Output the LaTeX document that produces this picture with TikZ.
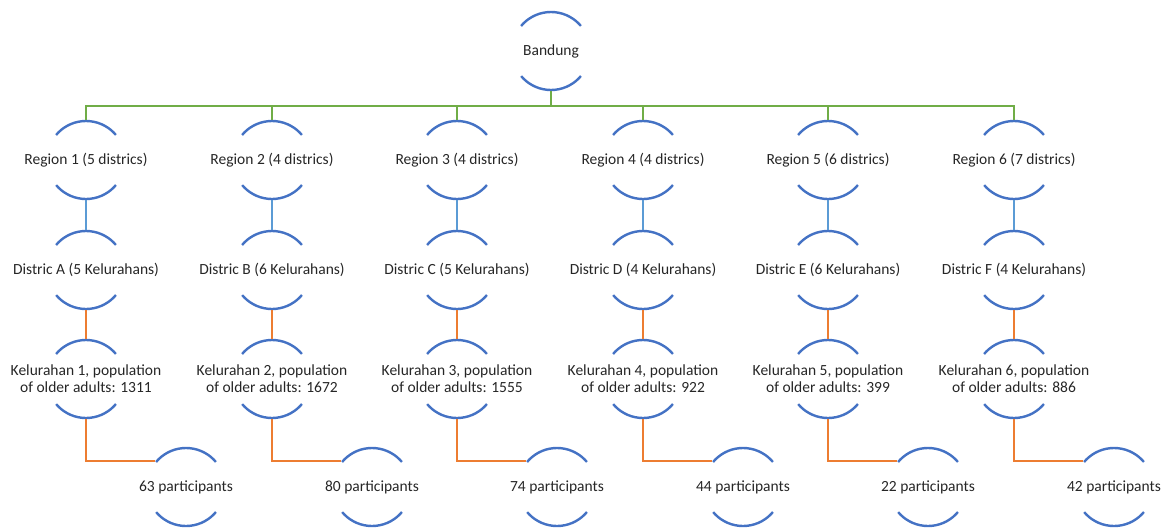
\documentclass[tikz,border=0pt]{standalone}
\usepackage{fontspec}
\setmainfont{Carlito}
\usepackage{tikz}
\definecolor{arcblue}{HTML}{4472C4}
\definecolor{lineblue}{HTML}{5B9BD5}
\definecolor{linegreen}{HTML}{70AD47}
\definecolor{lineorange}{HTML}{ED7D31}
\definecolor{txt}{HTML}{262626}
\tikzset{
	blob/.style={circle, minimum size=78pt, inner sep=0pt, draw=arcblue, line width=2.4pt,
		dash pattern=on 68.07pt off 54.45pt, dash phase=95.29pt},
	every label/.style={font=\fontsize{15.5}{17}\selectfont, text=txt, align=center},
	green/.style={draw=linegreen, line width=2pt},
	blue/.style={draw=lineblue, line width=2pt},
	orange/.style={draw=lineorange, line width=2pt}
}

\begin{document}
\begin{tikzpicture}[x=1pt,y=-1pt]
		\useasboundingbox (0,0) rectangle (1166,530);
		% top
		\node[blob, label=center:Bandung] (B) at (551,51) {};
		\coordinate (bus) at (551,106);
		% regions
		\node[blob, label=center:{Region 1 (5 districs)}] (R1) at (86,160) {};
		\node[blob, label=center:{Region 2 (4 districs)}] (R2) at (272,160) {};
		\node[blob, label=center:{Region 3 (4 districs)}] (R3) at (457,160) {};
		\node[blob, label=center:{Region 4 (4 districs)}] (R4) at (643,160) {};
		\node[blob, label=center:{Region 5 (6 districs)}] (R5) at (828,160) {};
		\node[blob, label=center:{Region 6 (7 districs)}] (R6) at (1014,160) {};
		% districts
		\node[blob, label=center:{Distric A (5 Kelurahans)}] (D1) at (86,270) {};
		\node[blob, label=center:{Distric B (6 Kelurahans)}] (D2) at (272,270) {};
		\node[blob, label=center:{Distric C (5 Kelurahans)}] (D3) at (457,270) {};
		\node[blob, label=center:{Distric D (4 Kelurahans)}] (D4) at (643,270) {};
		\node[blob, label=center:{Distric E (6 Kelurahans)}] (D5) at (828,270) {};
		\node[blob, label=center:{Distric F (4 Kelurahans)}] (D6) at (1014,270) {};
		% kelurahans
		\node[blob, label=center:{Kelurahan 1, population\\of older adults: 1311}] (K1) at (86,379) {};
		\node[blob, label=center:{Kelurahan 2, population\\of older adults: 1672}] (K2) at (272,379) {};
		\node[blob, label=center:{Kelurahan 3, population\\of older adults: 1555}] (K3) at (457,379) {};
		\node[blob, label=center:{Kelurahan 4, population\\of older adults: 922}] (K4) at (643,379) {};
		\node[blob, label=center:{Kelurahan 5, population\\of older adults: 399}] (K5) at (828,379) {};
		\node[blob, label=center:{Kelurahan 6, population\\of older adults: 886}] (K6) at (1014,379) {};
		% participants
		\node[blob, label=center:{63 participants}] (P1) at (186,487) {};
		\node[blob, label=center:{80 participants}] (P2) at (372,487) {};
		\node[blob, label=center:{74 participants}] (P3) at (557,487) {};
		\node[blob, label=center:{44 participants}] (P4) at (743,487) {};
		\node[blob, label=center:{22 participants}] (P5) at (928,487) {};
		\node[blob, label=center:{42 participants}] (P6) at (1114,487) {};
		% connectors
		\draw[green] (B.south) -- (bus);
		\draw[green] (bus) -| (R1.north);
		\draw[green] (bus) -| (R2.north);
		\draw[green] (bus) -| (R3.north);
		\draw[green] (bus) -| (R4.north);
		\draw[green] (bus) -| (R5.north);
		\draw[green] (bus) -| (R6.north);
		\draw[blue] (R1.south) -- (D1.north);
		\draw[blue] (R2.south) -- (D2.north);
		\draw[blue] (R3.south) -- (D3.north);
		\draw[blue] (R4.south) -- (D4.north);
		\draw[blue] (R5.south) -- (D5.north);
		\draw[blue] (R6.south) -- (D6.north);
		\draw[orange] (D1.south) -- (K1.north);
		\draw[orange] (D2.south) -- (K2.north);
		\draw[orange] (D3.south) -- (K3.north);
		\draw[orange] (D4.south) -- (K4.north);
		\draw[orange] (D5.south) -- (K5.north);
		\draw[orange] (D6.south) -- (K6.north);
		\draw[orange] (K1.south) |- (P1.140);
		\draw[orange] (K2.south) |- (P2.140);
		\draw[orange] (K3.south) |- (P3.140);
		\draw[orange] (K4.south) |- (P4.140);
		\draw[orange] (K5.south) |- (P5.140);
		\draw[orange] (K6.south) |- (P6.140);
	\end{tikzpicture}
\end{document}
